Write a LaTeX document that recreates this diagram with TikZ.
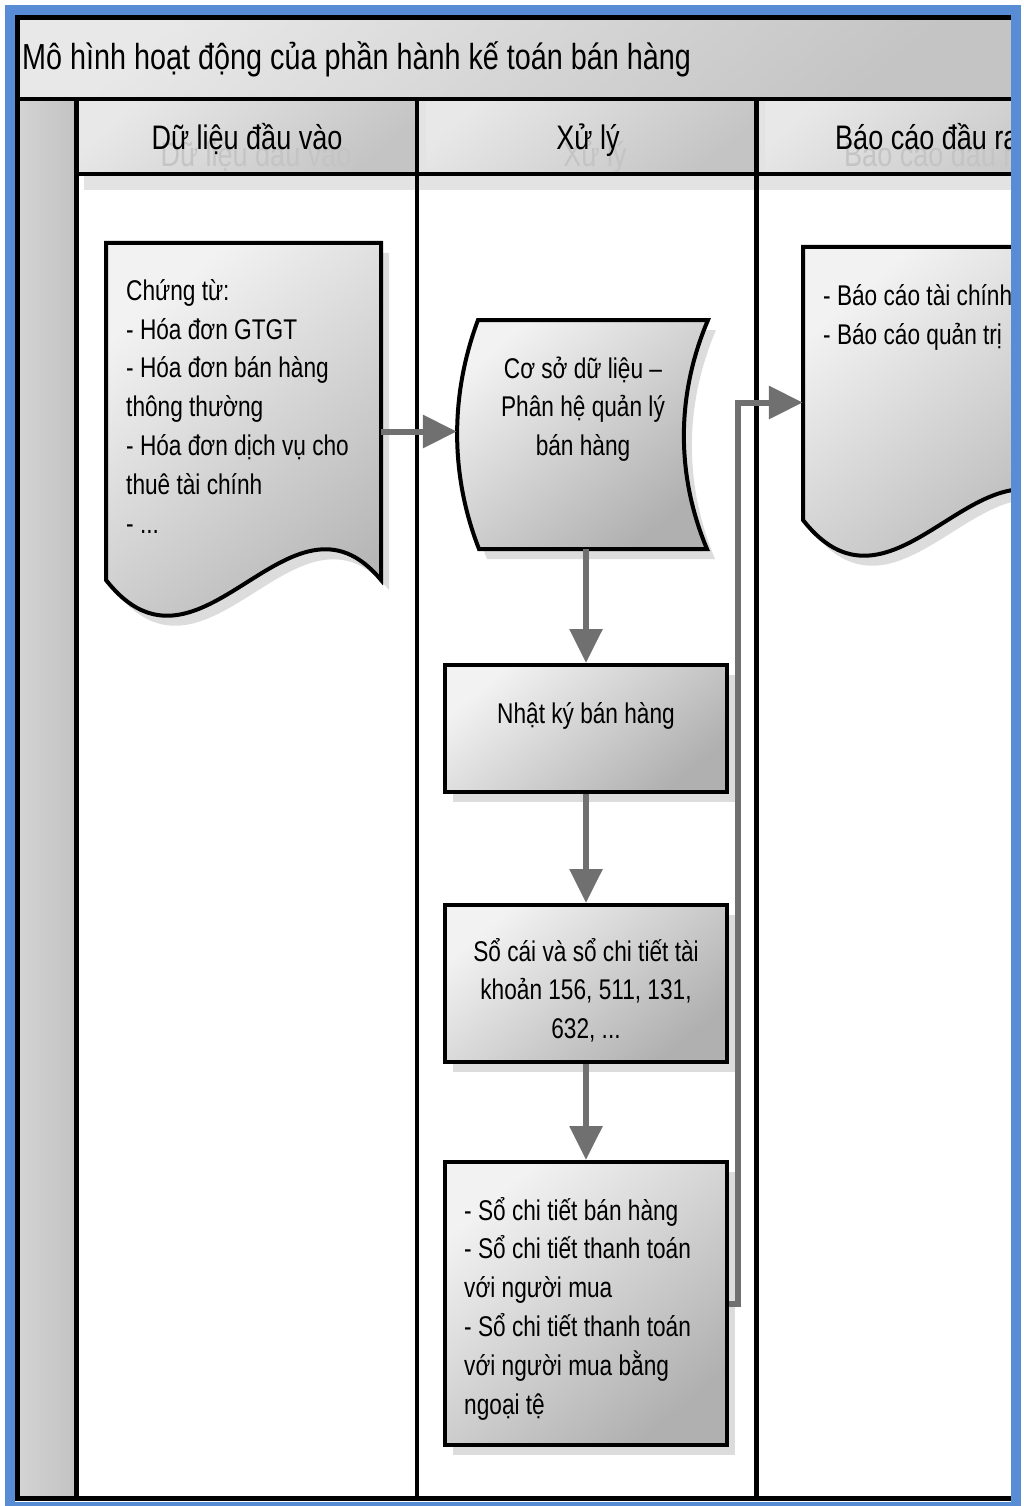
\documentclass[tikz,border=0pt]{standalone}
\usepackage{fontspec}
\setmainfont[FakeStretch=0.795]{Liberation Sans}
\usetikzlibrary{arrows.meta,shadows}
\definecolor{frameblue}{RGB}{88,141,214}
\definecolor{flowgray}{RGB}{112,112,112}
\definecolor{shapehi}{RGB}{242,242,242}
\definecolor{shapelo}{RGB}{176,176,176}
\definecolor{barhi}{RGB}{232,232,232}
\definecolor{barlo}{RGB}{196,196,196}
\definecolor{colhi}{RGB}{212,212,212}
\definecolor{collo}{RGB}{194,194,194}
\definecolor{ghost}{RGB}{196,196,196}
\definecolor{shadowgray}{RGB}{220,220,220}
\tikzset{
  every node/.style={inner sep=0pt, font=\fontsize{28.5}{38.8}\selectfont},
  shapefill/.style={top color=shapehi, bottom color=shapelo, shading angle=40},
  barfill/.style={top color=barhi, bottom color=barlo, shading angle=40},
  shapeline/.style={draw=black, line width=4pt, line join=miter},
  softshadow/.style={drop shadow={shadow xshift=8pt, shadow yshift=-10pt, fill=shadowgray, opacity=1}},
  procbox/.style={rectangle, shapeline, shapefill, softshadow},
  anchorbox/.style={rectangle, draw=none, fill=none},
  flow/.style={draw=flowgray, line width=6pt, line join=miter, -{Triangle[length=34pt,width=32pt]}},
  poolline/.style={draw=black, line width=4.5pt},
  headtext/.style={anchor=base, font=\fontsize{34}{40}\selectfont},
  ghosttext/.style={headtext, text=ghost},
  titletext/.style={anchor=base west, font=\fontsize{36.2}{42}\selectfont},
}
\begin{document}
\begin{tikzpicture}[x=1pt, y=-1pt]
\useasboundingbox (0,0) rectangle (1023,1506);
\fill[white] (0,0) rectangle (1023,1506);

\begin{scope}
\clip (15,15) rectangle (1012,1502);
% pool background: title bar, lane headers, label column, lanes
\fill[white] (17,17) rectangle (1100,1499);
\path[barfill] (17,17.5) rectangle (1012,99);
\path[barfill] (76.5,99) rectangle (417,174);
\path[barfill] (417,99) rectangle (756.5,174);
\path[barfill] (756.5,99) rectangle (1100,174);
\path[left color=colhi, right color=collo] (17,99) rectangle (76.5,1498.5);
% soft shadow under the lane headers
\fill[shadowgray!80!white] (84,176) rectangle (1012,190);
\fill[shadowgray!80!white] (419,99) rectangle (426,190);
\fill[shadowgray!80!white] (758.5,99) rectangle (765,190);

% header captions with their faint shadow copies
\node[ghosttext] (h1g) at (256,167) {Dữ liệu đầu vào};
\node[ghosttext] (h2g) at (595,167) {Xử lý};
\node[ghosttext, anchor=base west] (h3g) at (844,167) {Báo cáo đầu ra};
\node[headtext] (h1) at (247,150) {Dữ liệu đầu vào};
\node[headtext] (h2) at (588,150) {Xử lý};
\node[headtext, anchor=base west] (h3) at (835,150) {Báo cáo đầu ra};
\node[titletext] (title) at (22,70) {Mô hình hoạt động của phần hành kế toán bán hàng};

% pool frame and lane dividers
\draw[poolline] (1100,17.5) -- (17.5,17.5) -- (17.5,1498.5) -- (1100,1498.5);
\draw[poolline] (17.5,99) -- (1100,99);
\draw[poolline] (76.5,174) -- (1100,174);
\draw[poolline] (76.5,99) -- (76.5,1498.5);
\draw[poolline] (417,99) -- (417,1498.5);
\draw[poolline] (756.5,99) -- (756.5,1498.5);

% input documents
\path[shapeline, shapefill, softshadow]
  (106,243) -- (381,243) -- (381,580)
  .. controls (290,470) and (200,700) .. (106,580) -- cycle;
\node[anchorbox, minimum width=275pt, minimum height=377pt] (doc1) at (243.5,431.5) {};
\node[anchor=base west, align=left] (doc1-t) at (126,533)
  {Chứng từ:\\- Hóa đơn GTGT\\- Hóa đơn bán hàng\\thông thường\\- Hóa đơn dịch vụ cho\\thuê tài chính\\- ...};

% sales database
\path[shapeline, shapefill, softshadow]
  (478,320) -- (708,320) .. controls (676,395) and (676,475) .. (707,549)
  -- (479,549) .. controls (450,475) and (450,395) .. (478,320) -- cycle;
\node[anchorbox, minimum width=251pt, minimum height=229pt] (db) at (582.5,434.5) {};
\node[anchor=base, align=center] (db-t) at (583,455.6)
  {Cơ sở dữ liệu –\\Phân hệ quản lý\\bán hàng};

% processing steps
\node[procbox, minimum width=282pt, minimum height=127pt] (jrnl) at (586,728.5) {};
\node[anchor=base, align=center] (jrnl-t) at (586,723) {Nhật ký bán hàng};
\node[procbox, minimum width=282pt, minimum height=157pt] (ledger) at (586,983.5) {};
\node[anchor=base, align=center] (ledger-t) at (586,1038.6)
  {Sổ cái và sổ chi tiết tài\\khoản 156, 511, 131,\\632, ...};
\node[procbox, minimum width=282pt, minimum height=283pt] (detail) at (586,1303.5) {};
\node[anchor=base west, align=left] (detail-t) at (464,1414)
  {- Sổ chi tiết bán hàng\\- Sổ chi tiết thanh toán\\với người mua\\- Sổ chi tiết thanh toán\\với người mua bằng\\ngoại tệ};

% output reports
\path[shapeline, shapefill, softshadow]
  (803,247) -- (1079,247) -- (1079,520)
  .. controls (987,410) and (897,640) .. (803,520) -- cycle;
\node[anchorbox, minimum width=276pt, minimum height=311pt] (rep) at (941,402.5) {};
\node[anchor=base west, align=left] (rep-t) at (823,344)
  {- Báo cáo tài chính\\- Báo cáo quản trị};

% flow connectors
\draw[flow] (doc1.east) -- (doc1.east -| db.west);
\draw[flow] (db.south -| jrnl.north) -- (jrnl.north);
\draw[flow] (jrnl.south) -- (ledger.north);
\draw[flow] (ledger.south) -- (detail.north);
\draw[flow] (detail.east) -- ++(9,0) |- (rep.west);
\end{scope}

% window frame
\draw[frameblue, line width=9.5pt] (10,10) rectangle (1016,1507);
\end{tikzpicture}
\end{document}
